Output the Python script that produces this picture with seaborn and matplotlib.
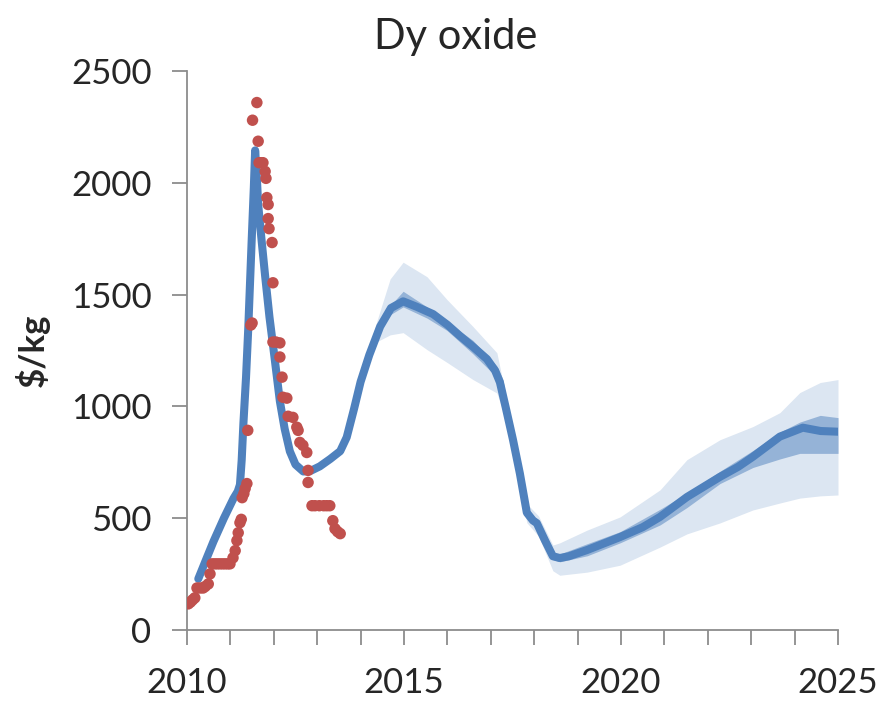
import numpy as np
import pandas as pd
import matplotlib
matplotlib.use("Agg")
import matplotlib.pyplot as plt
from matplotlib.ticker import MultipleLocator
import seaborn as sns

# modelled price path ($/kg)
line_years = [2010.26, 2010.45, 2010.61, 2010.85, 2011.07, 2011.17, 2011.22, 2011.26, 2011.3, 2011.36,
              2011.41, 2011.49, 2011.54, 2011.57, 2011.6, 2011.64, 2011.72, 2011.8, 2011.9, 2011.99,
              2012.14, 2012.25, 2012.37, 2012.5, 2012.68, 2012.85, 2013.06, 2013.3, 2013.53, 2013.68,
              2013.85, 2014.0, 2014.2, 2014.45, 2014.7, 2014.98, 2015.3, 2015.67, 2016.0, 2016.29,
              2016.6, 2016.91, 2017.1, 2017.21, 2017.35, 2017.51, 2017.67, 2017.83, 2017.97, 2018.06,
              2018.25, 2018.43, 2018.59, 2018.8, 2019.22, 2019.98, 2020.5, 2020.9, 2021.52, 2022.28,
              2022.7, 2023.04, 2023.66, 2024.19, 2024.6, 2025.0]
line_vals = [229, 320, 396, 500, 588, 620, 650, 760, 925, 1130,
             1342, 1741, 1980, 2145, 2060, 1903, 1740, 1584, 1400, 1261,
             1023, 900, 799, 740, 709, 712, 732, 765, 800, 862,
             990, 1110, 1230, 1357, 1440, 1470, 1445, 1413, 1365, 1315,
             1265, 1212, 1160, 1108, 990, 852, 700, 525, 490, 478,
             400, 330, 322, 330, 358, 416, 460, 506, 595, 685,
             730, 775, 865, 905, 890, 887]

# uncertainty bands
band_years = [2014.0, 2014.38, 2014.68, 2014.98, 2015.53, 2015.99, 2016.59, 2017.14, 2017.28, 2017.5,
              2017.83, 2018.1, 2018.43, 2018.59, 2019.22, 2019.98, 2020.9, 2021.52, 2022.28, 2023.04,
              2023.66, 2024.12, 2024.59, 2025.0]
outer_hi = [1135, 1385, 1570, 1645, 1580, 1478, 1357, 1240, 1110, 900,
            565, 510, 380, 390, 447, 506, 627, 762, 851, 910,
            972, 1062, 1107, 1120]
outer_lo = [1100, 1290, 1320, 1330, 1254, 1197, 1120, 1060, 980, 800,
            480, 420, 265, 245, 259, 290, 371, 430, 479, 537,
            568, 590, 600, 604]
inner_hi = [1125, 1345, 1450, 1515, 1445, 1380, 1295, 1180, 1120, 870,
            540, 490, 345, 340, 386, 440, 540, 612, 710, 803,
            885, 930, 960, 950]
inner_lo = [1110, 1320, 1410, 1445, 1395, 1340, 1235, 1130, 1095, 835,
            510, 465, 315, 305, 332, 390, 470, 548, 655, 727,
            765, 790, 790, 790]

# observed prices
obs_years = [2010.03, 2010.08, 2010.13, 2010.18, 2010.23, 2010.3, 2010.37, 2010.42, 2010.49, 2010.53,
             2010.58, 2010.64, 2010.7, 2010.76, 2010.82, 2010.88, 2010.94, 2010.99, 2011.06, 2011.11,
             2011.15, 2011.18, 2011.22, 2011.25, 2011.27, 2011.31, 2011.34, 2011.38, 2011.4, 2011.47,
             2011.5, 2011.51, 2011.61, 2011.64, 2011.66, 2011.71, 2011.75, 2011.8, 2011.82, 2011.84,
             2011.87, 2011.87, 2011.89, 2011.96, 2011.98, 2011.98, 2012.05, 2012.14, 2012.14, 2012.19,
             2012.21, 2012.3, 2012.33, 2012.44, 2012.53, 2012.56, 2012.6, 2012.67, 2012.76, 2012.79,
             2012.79, 2012.88, 2012.95, 2013.05, 2013.15, 2013.22, 2013.29, 2013.36, 2013.41, 2013.47,
             2013.53]
obs_vals = [117, 125, 135, 144, 188, 188, 188, 195, 206, 251,
            296, 296, 296, 296, 296, 296, 296, 296, 323, 355,
            400, 435, 480, 495, 592, 610, 633, 655, 893, 1364,
            1373, 2280, 2359, 2186, 2090, 2090, 2090, 2051, 2020, 1934,
            1903, 1840, 1795, 1733, 1553, 1288, 1288, 1284, 1221, 1131,
            1041, 1037, 956, 951, 907, 893, 839, 826, 794, 714,
            660, 556, 556, 556, 556, 556, 556, 489, 453, 440,
            431]

sns.set_style("ticks")
plt.rcParams["font.family"] = ["Lato", "DejaVu Sans"]

blue = "#4f81bd"
red = "#c0504d"
grey = "#8c8c8c"

fig = plt.figure(figsize=(8.85, 7.06), dpi=100)
ax = fig.add_axes([0.2113, 0.1076, 0.7356, 0.7918])

ax.fill_between(band_years, outer_lo, outer_hi, color="#dce6f2", lw=0, zorder=1)
ax.fill_between(band_years, inner_lo, inner_hi, color="#95b3d7", lw=0, zorder=2)

line_df = pd.DataFrame({"year": line_years, "price": line_vals})
sns.lineplot(data=line_df, x="year", y="price", color=blue, lw=5.8, ax=ax, zorder=3,
             sort=False, estimator=None)
ax.lines[-1].set_solid_joinstyle("round")

obs_df = pd.DataFrame({"year": obs_years, "price": obs_vals})
sns.scatterplot(data=obs_df, x="year", y="price", color=red, s=68, edgecolor="none",
                ax=ax, zorder=4)

ax.set_xlim(2010, 2025)
ax.set_ylim(0, 2500)
ax.xaxis.set_major_locator(MultipleLocator(5))
ax.xaxis.set_minor_locator(MultipleLocator(1))
ax.yaxis.set_major_locator(MultipleLocator(500))
ax.tick_params(axis="both", which="both", direction="out", length=10.5, width=1.3,
               color=grey, labelsize=25)
ax.tick_params(axis="y", pad=15)
ax.tick_params(axis="x", pad=16)

sns.despine(ax=ax)
for side in ["left", "bottom"]:
    ax.spines[side].set_color(grey)
    ax.spines[side].set_linewidth(1.3)

ax.set_xlabel("")
ax.set_ylabel("$/kg", fontsize=25, fontweight="bold")
ax.yaxis.set_label_coords(-0.21, 0.5)
ax.set_title("Dy oxide", fontsize=30, x=0.412, pad=16)

fig.savefig("out.png", dpi=100)
